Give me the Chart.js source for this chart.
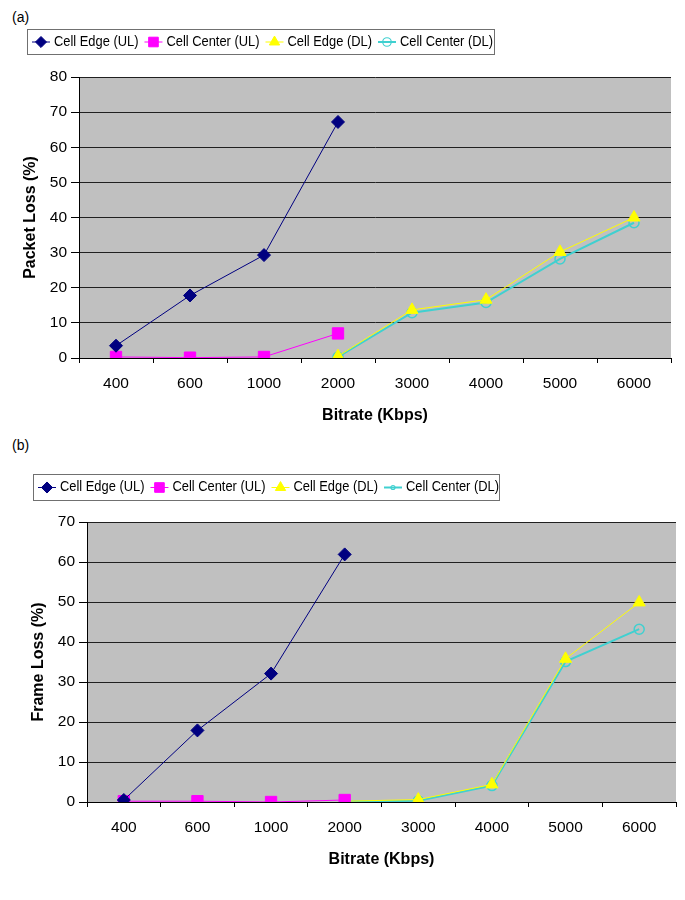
<!DOCTYPE html>
<html>
<head>
<meta charset="utf-8">
<script src="https://cdn.jsdelivr.net/npm/chart.js@4/dist/chart.umd.min.js"></script>
<style>
  body { margin: 0; background: #fff; width: 685px; height: 900px; position: relative; font-family: "Liberation Sans", Arial, sans-serif; }
  .tag { position: absolute; left: 12px; font-size: 14px; color: #000; }
  .wrap { position: absolute; left: 0; width: 685px; }
</style>
</head>
<body>
<div class="tag" style="top:9px">(a)</div>
<div class="wrap" style="top:0; height:430px"><canvas id="chartA" width="685" height="430"></canvas></div>
<div class="tag" style="top:437px">(b)</div>
<div class="wrap" style="top:440px; height:460px"><canvas id="chartB" width="685" height="460"></canvas></div>
<script>
const bitrates = ['400', '600', '1000', '2000', '3000', '4000', '5000', '6000']

// (a) packet loss, %
const packetEdgeUL = [3.5, 17.8, 29.3, 67.2, null, null, null, null]
const packetCenterUL = [0.3, 0.1, 0.3, 7.0, null, null, null, null]
const packetEdgeDL = [null, null, null, 0.5, 13.7, 16.6, 30.2, 40.0]
const packetCenterDL = [null, null, null, 0.3, 12.9, 15.8, 28.2, 38.5]

// (b) frame loss, %
const frameEdgeUL = [0.5, 17.9, 32.1, 61.9, null, null, null, null]
const frameCenterUL = [0.2, 0.2, 0.0, 0.5, null, null, null, null]
const frameEdgeDL = [null, null, null, 0.2, 0.6, 4.4, 35.8, 49.9]
const frameCenterDL = [null, null, null, 0.1, 0.3, 4.1, 35.1, 43.2]

const seriesNames = ['Cell Edge (UL)', 'Cell Center (UL)', 'Cell Edge (DL)', 'Cell Center (DL)']

const FONT = '"Liberation Sans", Arial, sans-serif'

const styles = [
  { color: '#000080', pointStyle: 'rectRot', radius: 6.5, width: 1, fill: true },
  { color: '#ff00ff', pointStyle: 'rect', radius: 8, width: 1, fill: true },
  { color: '#ffff00', pointStyle: 'triangle', radius: 7, width: 1, fill: true },
  { color: '#40d0d0', pointStyle: 'circle', radius: 5, width: 2, fill: false }
]

const makeDatasets = (arrays) => arrays.map((data, i) => {
  const s = styles[i]
  return {
    label: seriesNames[i],
    data: data,
    borderColor: s.color,
    backgroundColor: s.color,
    borderWidth: s.width,
    pointStyle: s.pointStyle,
    pointRadius: s.radius,
    pointBackgroundColor: s.fill ? s.color : 'rgba(0,0,0,0)',
    pointBorderColor: s.color,
    pointBorderWidth: s.fill ? 1 : 1.5,
    spanGaps: false,
    tension: 0
  }
})

// gray plot area
const plotBg = {
  id: 'plotBg',
  beforeDraw(chart) {
    const { ctx, chartArea: a } = chart
    ctx.save()
    ctx.fillStyle = '#c0c0c0'
    ctx.fillRect(a.left, a.top, a.right - a.left, a.bottom - a.top)
    ctx.restore()
  }
}

// boxed legend in the Excel style: line with marker, then label
const boxLegend = {
  id: 'boxLegend',
  afterDraw(chart, args, opts) {
    const { ctx } = chart
    const b = opts.box
    const squeeze = 0.92
    ctx.save()
    ctx.fillStyle = '#fff'
    ctx.fillRect(b.x, b.y, b.w, b.h)
    ctx.strokeStyle = '#707070'
    ctx.lineWidth = 1
    ctx.strokeRect(b.x + 0.5, b.y + 0.5, b.w, b.h)
    ctx.font = '14px ' + FONT
    ctx.textBaseline = 'middle'
    let x = b.x + 5
    const cy = b.y + b.h / 2 + 0.5
    chart.data.datasets.forEach((ds, i) => {
      const s = styles[i]
      ctx.strokeStyle = s.color
      ctx.lineWidth = s.width
      ctx.beginPath()
      ctx.moveTo(x, cy)
      ctx.lineTo(x + 18, cy)
      ctx.stroke()
      ctx.fillStyle = s.fill ? s.color : 'rgba(0,0,0,0)'
      ctx.lineWidth = s.fill ? 1 : 1.2
      const r = opts.small && i === 3 ? 2 : s.radius * 0.85
      Chart.helpers.drawPoint(ctx, { pointStyle: s.pointStyle, radius: r, rotation: 0, borderWidth: 1 }, x + 9, cy)
      ctx.fillStyle = '#000'
      ctx.save()
      ctx.translate(x + 22, cy)
      ctx.scale(squeeze, 1)
      ctx.fillText(ds.label, 0, 0)
      ctx.restore()
      x += 22 + ctx.measureText(ds.label).width * squeeze + 6
    })
    ctx.restore()
  }
}

const makeConfig = (arrays, opt) => ({
  type: 'line',
  data: { labels: bitrates, datasets: makeDatasets(arrays) },
  plugins: [plotBg, boxLegend],
  options: {
    responsive: false,
    animation: false,
    layout: { padding: opt.padding },
    plugins: {
      legend: { display: false },
      tooltip: { enabled: false },
      boxLegend: { box: opt.box, small: opt.small }
    },
    scales: {
      x: {
        offset: true,
        afterFit: (s) => { s.height = 71 },
        grid: { offset: true, drawOnChartArea: false, drawTicks: true, tickLength: 5, color: '#000' },
        border: { display: true, color: '#000', width: 1 },
        ticks: { color: '#000', font: { family: FONT, size: 15.5 }, padding: 11, maxRotation: 0 },
        title: { display: true, text: 'Bitrate (Kbps)', color: '#000', font: { family: FONT, size: 16, weight: 'bold' } }
      },
      y: {
        min: 0,
        max: opt.max,
        afterFit: (s) => { s.width = 62 },
        grid: { color: '#202020', lineWidth: 1, drawTicks: true, tickLength: 8, tickColor: '#000' },
        border: { display: true, color: '#000', width: 1 },
        ticks: { stepSize: 10, color: '#000', font: { family: FONT, size: 15.5 }, padding: 4 },
        title: { display: true, text: opt.yTitle, color: '#000', font: { family: FONT, size: 16, weight: 'bold' } }
      }
    }
  }
})

new Chart(document.getElementById('chartA'), makeConfig(
  [packetEdgeUL, packetCenterUL, packetEdgeDL, packetCenterDL],
  { max: 80, yTitle: 'Packet Loss (%)', padding: { left: 17, right: 14, top: 77, bottom: 1 }, box: { x: 27, y: 29, w: 467, h: 25 }, small: false }
))

new Chart(document.getElementById('chartB'), makeConfig(
  [frameEdgeUL, frameCenterUL, frameEdgeDL, frameCenterDL],
  { max: 70, yTitle: 'Frame Loss (%)', padding: { left: 25, right: 8, top: 82, bottom: 27 }, box: { x: 33, y: 34, w: 466, h: 26 }, small: true }
))
</script>
</body>
</html>
